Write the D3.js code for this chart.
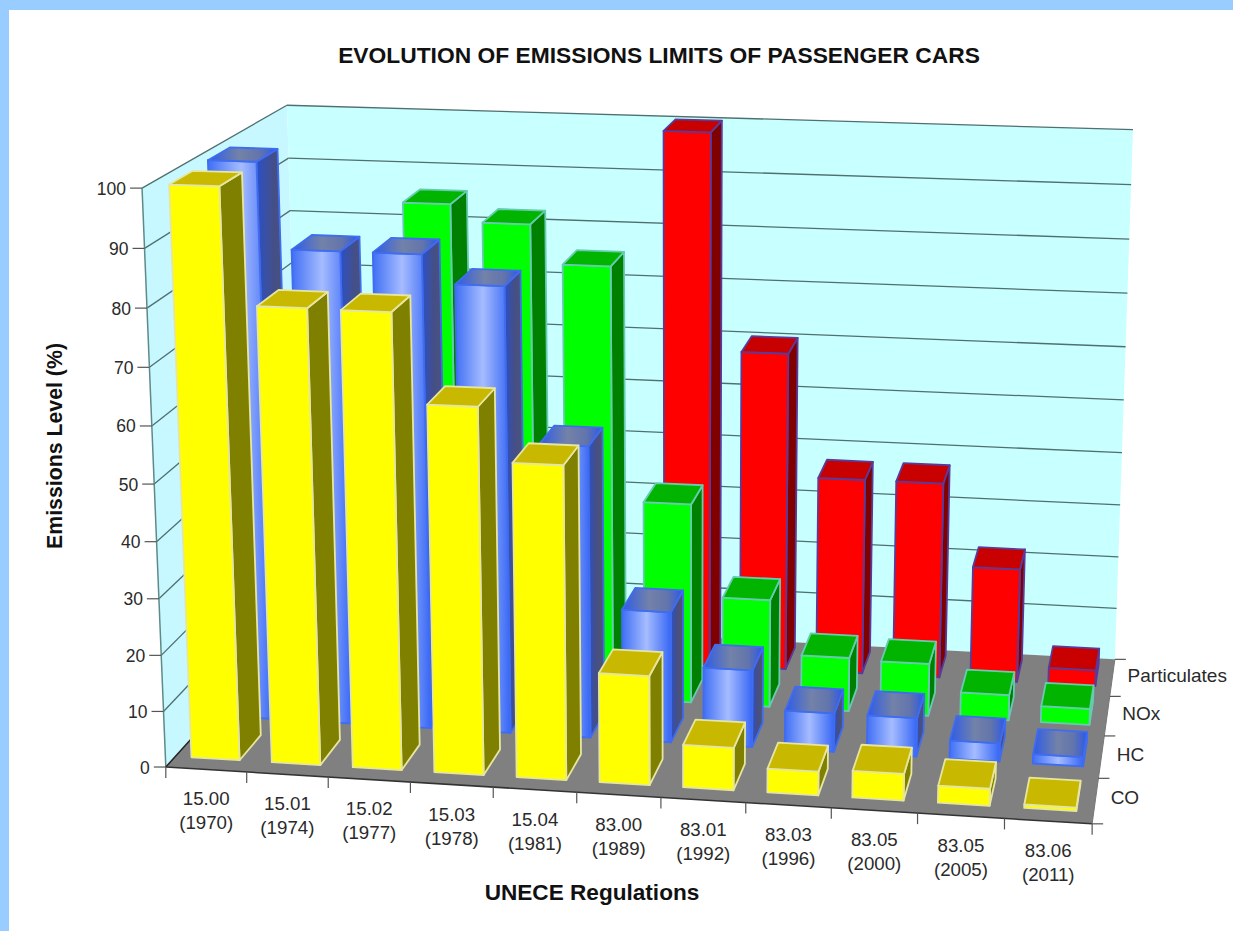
<!DOCTYPE html>
<html>
  <head>
    <title>Emissions limits</title>
    <script src="https://d3js.org/d3.v7.min.js"></script>
    <style>
      body { margin: 0; background: #fff; }
      svg { display: block; }
      text { font-family: "Liberation Sans", Arial, sans-serif; fill: #2a2a2a; }
    </style>
  </head>
  <body>
    <div id="vis"></div>
    <script>
      var width = 1233;
      var height = 931;

      var regulations = ["15.00", "15.01", "15.02", "15.03", "15.04", "83.00", "83.01", "83.03", "83.05", "83.05 ", "83.06"];
      var years = ["(1970)", "(1974)", "(1977)", "(1978)", "(1981)", "(1989)", "(1992)", "(1996)", "(2000)", "(2005)", "(2011)"];
      var seriesNames = ["CO", "HC", "NOx", "Particulates"];

      var coValues = [99.7, 79.8, 79.7, 64.3, 55, 19.3, 7.5, 4.2, 4.7, 3, 0.6];
      var hcValues = [100, 85, 85, 80, 52.6, 23.7, 14, 7, 7, 3.3, 1.7];
      var noxValues = [null, null, 89.6, 86.5, 79.5, 37, 20, 10, 9.7, 4.7, 3];
      var pmValues = [null, null, null, null, null, 100, 60, 37, 37, 21.5, 3];

      var seriesValues = [coValues, hcValues, noxValues, pmValues];

      var svg = d3.select("#vis")
        .append("svg")
        .attr("width", width)
        .attr("height", height);

      // gradients for the blue bars
      var defs = svg.append("defs");
      function addGradient(id, stops) {
        var g = defs.append("linearGradient").attr("id", id);
        stops.forEach(function (s) {
          g.append("stop").attr("offset", s[0]).attr("stop-color", s[1]);
        });
      }
      addGradient("blueFront", [[0, "#3f6ff5"], [0.5, "#a6bcff"], [1, "#3566f5"]]);
      addGradient("blueTop", [[0, "#2d5be8"], [0.45, "#7382a8"], [0.75, "#6274ac"], [1, "#2a58ea"]]);
      addGradient("blueSide", [[0, "#2a50c8"], [0.45, "#444f88"], [1, "#4f5470"]]);

      var barStyles = [
        { front: "#ffff00", top: "#c8b800", side: "#808000", stroke: "#e6e6a0" },
        { front: "url(#blueFront)", top: "url(#blueTop)", side: "url(#blueSide)", stroke: "#3f6cf0" },
        { front: "#00ff00", top: "#00b400", side: "#008000", stroke: "#66ccb0" },
        { front: "#ff0000", top: "#c80000", side: "#800000", stroke: "#5a3a9a" }
      ];

      // page background
      svg.append("rect").attr("width", width).attr("height", height).attr("fill", "#fff");
      svg.append("rect").attr("width", width).attr("height", 10).attr("fill", "#99ccff");
      svg.append("rect").attr("width", 9).attr("height", height).attr("fill", "#99ccff");

      // corners of the plot box on screen, box coords are [u, v, w] in 0..1
      var boxCorners = [
        [0, 0, 0, 166, 766],
        [1, 0, 0, 1092, 825],
        [0, 1, 0, 302, 617],
        [1, 1, 0, 1115, 658],
        [0, 0, 1, 142, 188],
        [0, 1, 1, 287, 105],
        [1, 1, 1, 1133, 130]
      ];

      // least squares fit of a projective camera to the corners
      function fitCamera(points) {
        var n = 11;
        var A = d3.range(n).map(function () { return d3.range(n + 1).map(function () { return 0; }); });
        function addRow(r, b) {
          for (var i = 0; i < n; i++) {
            for (var j = 0; j < n; j++) A[i][j] += r[i] * r[j];
            A[i][n] += r[i] * b;
          }
        }
        points.forEach(function (p) {
          var x = p[3] / 1000, y = p[4] / 1000;
          addRow([p[0], p[1], p[2], 1, 0, 0, 0, 0, -x * p[0], -x * p[1], -x * p[2]], x);
          addRow([0, 0, 0, 0, p[0], p[1], p[2], 1, -y * p[0], -y * p[1], -y * p[2]], y);
        });
        for (var c = 0; c < n; c++) {
          var best = c;
          for (var r = c + 1; r < n; r++) if (Math.abs(A[r][c]) > Math.abs(A[best][c])) best = r;
          var t = A[c]; A[c] = A[best]; A[best] = t;
          for (var r2 = 0; r2 < n; r2++) {
            if (r2 === c) continue;
            var f = A[r2][c] / A[c][c];
            for (var k = c; k <= n; k++) A[r2][k] -= f * A[c][k];
          }
        }
        return A.map(function (row, i) { return row[n] / row[i]; });
      }
      var cam = fitCamera(boxCorners);

      function project(u, v, w) {
        var d = cam[8] * u + cam[9] * v + cam[10] * w + 1;
        return [
          1000 * (cam[0] * u + cam[1] * v + cam[2] * w + cam[3]) / d,
          1000 * (cam[4] * u + cam[5] * v + cam[6] * w + cam[7]) / d
        ];
      }

      var x = d3.scaleBand().domain(regulations).range([0, 1]).paddingInner(0.4).paddingOuter(0.2);
      // bars sit a little back from the middle of their row
      var z = d3.scaleBand().domain(seriesNames).range([0.0125, 1.0125]).paddingInner(0.4).paddingOuter(0.2);
      var y = d3.scaleLinear().domain([0, 100]).range([0, 1]);

      function poly(parent, pts, fill, stroke, sw) {
        return parent.append("polygon")
          .attr("points", pts.map(function (p) { var q = project(p[0], p[1], p[2]); return q[0] + "," + q[1]; }).join(" "))
          .attr("fill", fill)
          .attr("stroke", stroke || "none")
          .attr("stroke-width", sw || 0)
          .attr("stroke-linejoin", "round");
      }
      function line3d(parent, a, b, color, sw) {
        var p = project(a[0], a[1], a[2]), q = project(b[0], b[1], b[2]);
        return parent.append("line")
          .attr("x1", p[0]).attr("y1", p[1]).attr("x2", q[0]).attr("y2", q[1])
          .attr("stroke", color).attr("stroke-width", sw);
      }

      // walls and floor
      var box = svg.append("g");
      poly(box, [[0, 0, 0], [0, 1, 0], [0, 1, 1], [0, 0, 1]], "#c8f8ff");
      poly(box, [[0, 1, 0], [1, 1, 0], [1, 1, 1], [0, 1, 1]], "#c8ffff");
      poly(box, [[0, 0, 0], [1, 0, 0], [1, 1, 0], [0, 1, 0]], "#808080");

      y.ticks(10).forEach(function (t) {
        if (t === 0) return;
        line3d(box, [0, 0, y(t)], [0, 1, y(t)], "#4f6f70", 1.3);
        line3d(box, [0, 1, y(t)], [1, 1, y(t)], "#4f6f70", 1.3);
      });
      line3d(box, [0, 0, 0], [0, 0, 1], "#5f8a8a", 1.5);
      line3d(box, [0, 0, 0], [0, 1, 0], "#222", 1.5);
      line3d(box, [0, 0, 0], [1, 0, 0], "#333", 1.5);
      line3d(box, [1, 0, 0], [1, 1, 0], "#777", 1);

      // axes
      var axes = svg.append("g");
      y.ticks(10).forEach(function (t) {
        var p = project(0, 0, y(t));
        axes.append("line")
          .attr("x1", p[0] - 12).attr("x2", p[0]).attr("y1", p[1]).attr("y2", p[1])
          .attr("stroke", "#555").attr("stroke-width", 1.2);
        axes.append("text")
          .attr("x", p[0] - 16).attr("y", p[1] + 6.5)
          .attr("text-anchor", "end")
          .attr("font-size", 17.5)
          .text(t);
      });

      var step = x.step();
      d3.range(regulations.length + 1).forEach(function (i) {
        var p = project(i * step, 0, 0);
        axes.append("line")
          .attr("x1", p[0]).attr("x2", p[0]).attr("y1", p[1]).attr("y2", p[1] + 11)
          .attr("stroke", "#555").attr("stroke-width", 1.2);
      });
      regulations.forEach(function (r, i) {
        var p = project(x(r) + x.bandwidth() / 2, 0, 0);
        var label = axes.append("text")
          .attr("text-anchor", "middle")
          .attr("font-size", 18.7)
          .attr("transform", "translate(" + p[0] + "," + (p[1] + 36) + ")");
        label.append("tspan").attr("x", 0).attr("y", 0).text(r.trim());
        label.append("tspan").attr("x", 0).attr("y", 24).text(years[i]);
      });

      d3.range(seriesNames.length + 1).forEach(function (i) {
        var p = project(1, i * z.step(), 0);
        axes.append("line")
          .attr("x1", p[0]).attr("x2", p[0] + 11).attr("y1", p[1]).attr("y2", p[1])
          .attr("stroke", "#555").attr("stroke-width", 1.2);
      });
      seriesNames.forEach(function (s) {
        var p = project(1, z(s) + z.bandwidth() / 2, 0);
        axes.append("text")
          .attr("x", p[0] + 15).attr("y", p[1] + 6)
          .attr("font-size", 19)
          .text(s);
      });

      // bars, back row first, left to right
      var bars = svg.append("g");
      d3.range(seriesNames.length - 1, -1, -1).forEach(function (s) {
        var st = barStyles[s];
        var v0 = z(seriesNames[s]);
        var v1 = v0 + z.bandwidth();
        seriesValues[s].forEach(function (val, i) {
          if (val === null) return;
          var u0 = x(regulations[i]);
          var u1 = u0 + x.bandwidth();
          var h = y(val);
          poly(bars, [[u1, v0, 0], [u1, v1, 0], [u1, v1, h], [u1, v0, h]], st.side, st.stroke, 1.8);
          poly(bars, [[u0, v0, 0], [u1, v0, 0], [u1, v0, h], [u0, v0, h]], st.front, st.stroke, 1.8);
          poly(bars, [[u0, v0, h], [u1, v0, h], [u1, v1, h], [u0, v1, h]], st.top, st.stroke, 1.8);
        });
      });

      // titles
      svg.append("text")
        .attr("x", 659).attr("y", 63)
        .attr("text-anchor", "middle")
        .attr("font-size", 22.8)
        .attr("font-weight", "bold")
        .style("fill", "#111")
        .text("EVOLUTION OF EMISSIONS LIMITS OF PASSENGER CARS");
      svg.append("text")
        .attr("x", 592).attr("y", 900)
        .attr("text-anchor", "middle")
        .attr("font-size", 22.6)
        .attr("font-weight", "bold")
        .style("fill", "#111")
        .text("UNECE Regulations");
      svg.append("text")
        .attr("transform", "translate(62,446) rotate(-90)")
        .attr("text-anchor", "middle")
        .attr("font-size", 21.3)
        .attr("font-weight", "bold")
        .style("fill", "#111")
        .text("Emissions Level (%)");
    </script>
  </body>
</html>
